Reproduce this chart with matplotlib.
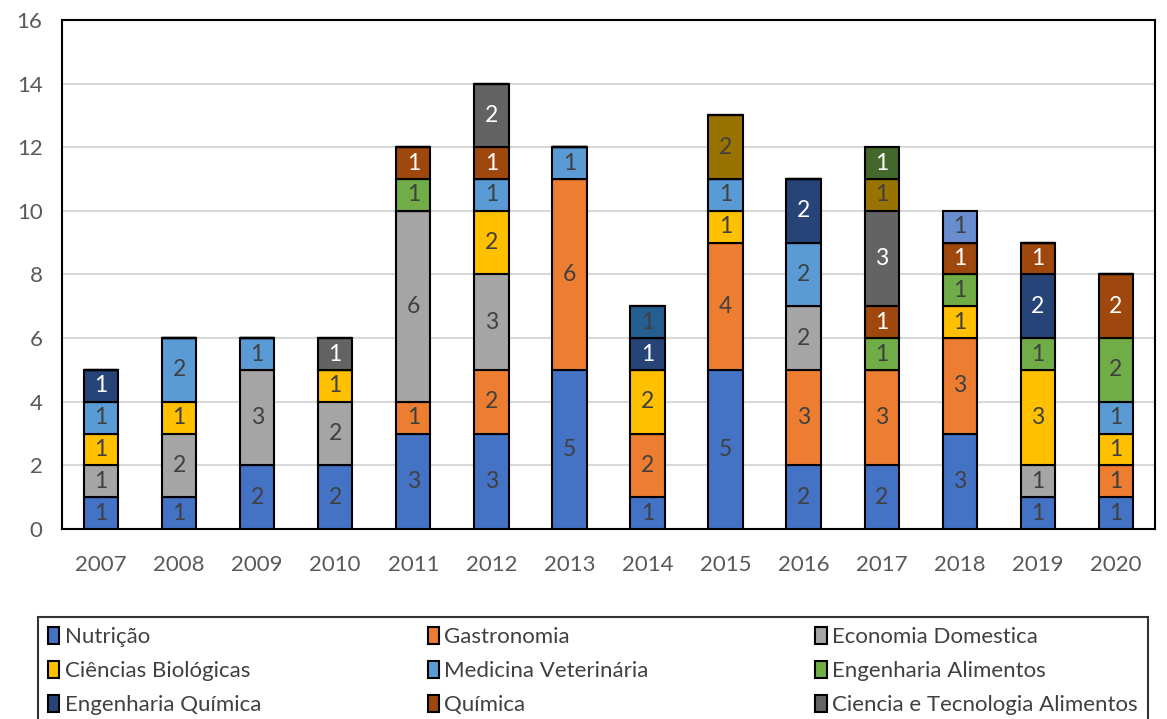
import matplotlib.pyplot as plt
import numpy as np
from matplotlib.patches import Patch

plt.rcParams['font.family'] = ['Lato', 'DejaVu Sans']

years = ['2007', '2008', '2009', '2010', '2011', '2012', '2013',
         '2014', '2015', '2016', '2017', '2018', '2019', '2020']

# one list per course, one value per year (0 = not present)
nutricao      = [1, 1, 2, 2, 3, 3, 5, 1, 5, 2, 2, 3, 1, 1]
gastronomia   = [0, 0, 0, 0, 1, 2, 6, 2, 4, 3, 3, 3, 0, 1]
economia_dom  = [1, 2, 3, 2, 6, 3, 0, 0, 0, 2, 0, 0, 1, 0]
ciencias_bio  = [1, 1, 0, 1, 0, 2, 0, 2, 1, 0, 0, 1, 3, 1]
medicina_vet  = [1, 2, 1, 0, 0, 1, 1, 0, 1, 2, 0, 0, 0, 1]
eng_alimentos = [0, 0, 0, 0, 1, 0, 0, 0, 0, 0, 1, 1, 1, 2]
eng_quimica   = [1, 0, 0, 0, 0, 0, 0, 1, 0, 2, 0, 0, 2, 0]
quimica       = [0, 0, 0, 0, 1, 1, 0, 0, 0, 0, 1, 1, 1, 2]
cta           = [0, 0, 0, 1, 0, 2, 0, 0, 0, 0, 3, 0, 0, 0]
serie_10      = [0, 0, 0, 0, 0, 0, 0, 0, 2, 0, 1, 0, 0, 0]
serie_11      = [0, 0, 0, 0, 0, 0, 0, 1, 0, 0, 0, 0, 0, 0]
serie_12      = [0, 0, 0, 0, 0, 0, 0, 0, 0, 0, 1, 0, 0, 0]
serie_13      = [0, 0, 0, 0, 0, 0, 0, 0, 0, 0, 0, 1, 0, 0]

series = [nutricao, gastronomia, economia_dom, ciencias_bio, medicina_vet,
          eng_alimentos, eng_quimica, quimica, cta,
          serie_10, serie_11, serie_12, serie_13]
names = ['Nutrição', 'Gastronomia', 'Economia Domestica',
         'Ciências Biológicas', 'Medicina Veterinária', 'Engenharia Alimentos',
         'Engenharia Química', 'Química', 'Ciencia e Tecnologia Alimentos']
colors = ['#4472C4', '#ED7D31', '#A5A5A5', '#FFC000', '#5B9BD5', '#70AD47',
          '#264478', '#9E480E', '#636363', '#997300', '#255E91', '#43682B',
          '#698ED0']
text_colors = ['#404040'] * 6 + ['white', 'white', 'white', '#404040',
                                 '#404040', 'white', '#404040']

fig = plt.figure(figsize=(11.67, 7.19), dpi=100)
ax = fig.add_axes([0.0531, 0.2643, 0.9366, 0.7079])

x = np.arange(len(years))
bottom = np.zeros(len(years))
for vals, col, tcol in zip(series, colors, text_colors):
    vals = np.array(vals, dtype=float)
    bars = ax.bar(x, vals, 0.44, bottom=bottom, color=col,
                  edgecolor='black', linewidth=1.5, zorder=3)
    for b, v in zip(bars, vals):
        if v > 0:
            ax.text(b.get_x() + b.get_width() / 2, b.get_y() + v / 2,
                    f'{int(v)}', ha='center', va='center', color=tcol,
                    fontsize=16.5, zorder=4)
    bottom += vals

ax.set_xlim(-0.5, len(years) - 0.5)
ax.set_ylim(0, 16)
ax.set_yticks(range(0, 17, 2))
ax.set_xticks(x)
ax.set_xticklabels(years)
ax.tick_params(axis='both', length=0, labelsize=16, colors='#595959')
ax.tick_params(axis='x', pad=19)
ax.tick_params(axis='y', pad=14)
ax.grid(axis='y', color='#D9D9D9', linewidth=1.5, zorder=0)
for s in ax.spines.values():
    s.set_color('black')
    s.set_linewidth(1.5)

# legend fills column by column, so reorder to read row by row
order = [0, 3, 6, 1, 4, 7, 2, 5, 8]
handles = [Patch(facecolor=colors[i], edgecolor='black', linewidth=1.5)
           for i in order]
labels = [names[i] for i in order]
leg = fig.legend(handles, labels, ncol=3, loc='upper left',
                 bbox_to_anchor=(38 / 1167, 1 - 617 / 719),
                 fontsize=16, frameon=True, fancybox=False,
                 edgecolor='black', handlelength=0.5, handleheight=0.8,
                 handletextpad=0.25, labelspacing=0.62, borderaxespad=0,
                 borderpad=0.45, columnspacing=7.5)
leg.get_frame().set_linewidth(1.5)
for t in leg.get_texts():
    t.set_color('#404040')

fig.savefig('out.png', dpi=100)
